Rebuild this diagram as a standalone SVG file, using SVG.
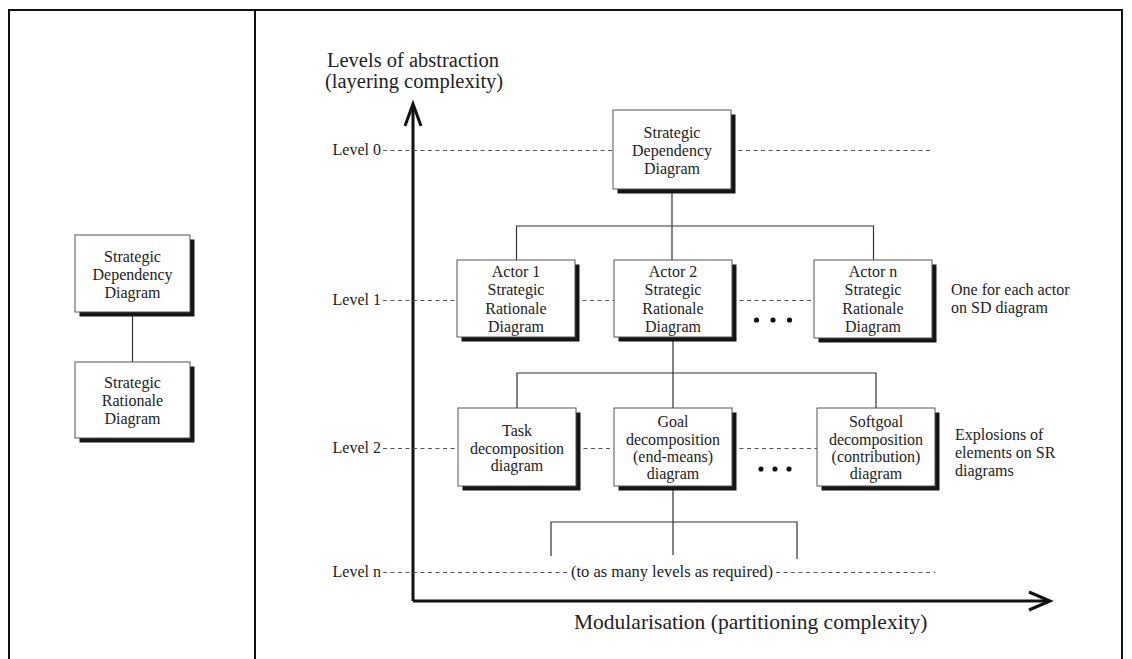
<svg xmlns="http://www.w3.org/2000/svg" width="1132" height="659" viewBox="0 0 1132 659">
  <style>
    .frame { fill: none; stroke: #111; stroke-width: 2; }
    .box { fill: #fff; stroke: #555; stroke-width: 1; }
    .shadow { fill: #151515; }
    .t { font-family: "Liberation Serif", "Times New Roman", serif; font-size: 16px; fill: #222; text-anchor: middle; }
    .lbl { font-family: "Liberation Serif", "Times New Roman", serif; font-size: 16px; fill: #222; }
    .lvl { font-family: "Liberation Serif", "Times New Roman", serif; font-size: 16px; fill: #222; text-anchor: end; }
    .axis-t { font-family: "Liberation Serif", "Times New Roman", serif; font-size: 20.5px; fill: #222; }
    .link { fill: none; stroke: #333; stroke-width: 1.2; }
    .dash { fill: none; stroke: #555; stroke-width: 1; stroke-dasharray: 4 3.5; }
    .axis { fill: none; stroke: #111; stroke-width: 3; }
    .dot { fill: #111; }
  </style>

  <rect width="1132" height="659" fill="#fff"/>

  <!-- outer frame and panel divider -->
  <g id="frame">
    <path class="frame" d="M9,660 V10 H1122 V660"/>
    <line class="frame" x1="255" y1="10" x2="255" y2="660"/>
  </g>

  <!-- axes -->
  <g id="axes">
    <polyline class="axis" points="413,601 413,105"/>
    <polyline class="axis" points="405,126 413,104 421,126"/>
    <polyline class="axis" points="413,601 1049,601"/>
    <polyline class="axis" points="1029,592 1050,601 1029,610"/>
    <text class="axis-t" x="327" y="67">Levels of abstraction</text>
    <text class="axis-t" x="325" y="88">(layering complexity)</text>
    <text class="axis-t" x="574" y="629" style="font-size:21.5px">Modularisation (partitioning complexity)</text>
  </g>

  <!-- level guides -->
  <g id="levels">
    <text class="lvl" x="381" y="155">Level 0</text>
    <text class="lvl" x="381" y="305">Level 1</text>
    <text class="lvl" x="381" y="453">Level 2</text>
    <text class="lvl" x="381" y="577">Level n</text>
    <line class="dash" x1="383" y1="150.5" x2="613" y2="150.5"/>
    <line class="dash" x1="731" y1="150.5" x2="932" y2="150.5"/>
    <line class="dash" x1="383" y1="300.5" x2="457" y2="300.5"/>
    <line class="dash" x1="575" y1="300.5" x2="614" y2="300.5"/>
    <line class="dash" x1="732" y1="300.5" x2="814" y2="300.5"/>
    <line class="dash" x1="383" y1="448.5" x2="458" y2="448.5"/>
    <line class="dash" x1="576" y1="448.5" x2="614" y2="448.5"/>
    <line class="dash" x1="732" y1="448.5" x2="817" y2="448.5"/>
    <line class="dash" x1="383" y1="572.5" x2="568" y2="572.5"/>
    <line class="dash" x1="776" y1="572.5" x2="935" y2="572.5"/>
    <text class="t" x="672" y="577" style="font-size:16.5px">(to as many levels as required)</text>
  </g>

  <!-- connectors -->
  <g id="connectors">
    <line class="link" x1="132.5" y1="312" x2="132.5" y2="362"/>
    <line class="link" x1="672" y1="189" x2="672" y2="260"/>
    <polyline class="link" points="516.5,260 516.5,226 873.5,226 873.5,260"/>
    <line class="link" x1="673" y1="337" x2="673" y2="408"/>
    <polyline class="link" points="517,408 517,373 876,373 876,408"/>
    <line class="link" x1="673" y1="486" x2="673" y2="555"/>
    <polyline class="link" points="551,556 551,522 797,522 797,559"/>
  </g>

  <!-- ellipsis markers -->
  <g id="ellipses">
    <circle class="dot" cx="756.5" cy="320" r="2.6"/>
    <circle class="dot" cx="773" cy="320" r="2.6"/>
    <circle class="dot" cx="789.5" cy="320" r="2.6"/>
    <circle class="dot" cx="761" cy="469" r="2.6"/>
    <circle class="dot" cx="775" cy="469" r="2.6"/>
    <circle class="dot" cx="789" cy="469" r="2.6"/>
  </g>

  <!-- left panel -->
  <g id="left-sd">
    <rect class="shadow" x="79.5" y="239.5" width="115" height="77"/>
    <rect class="box" x="75" y="235" width="115" height="77"/>
    <text class="t" x="132.5" y="262">Strategic</text>
    <text class="t" x="132.5" y="280">Dependency</text>
    <text class="t" x="132.5" y="298">Diagram</text>
  </g>
  <g id="left-sr">
    <rect class="shadow" x="79.5" y="366.5" width="115" height="76"/>
    <rect class="box" x="75" y="362" width="115" height="76"/>
    <text class="t" x="132.5" y="388">Strategic</text>
    <text class="t" x="132.5" y="406">Rationale</text>
    <text class="t" x="132.5" y="424">Diagram</text>
  </g>

  <!-- level 0 -->
  <g id="sd-diagram">
    <rect class="shadow" x="617.5" y="114.5" width="118" height="79"/>
    <rect class="box" x="613" y="110" width="118" height="79"/>
    <text class="t" x="672" y="138">Strategic</text>
    <text class="t" x="672" y="156">Dependency</text>
    <text class="t" x="672" y="174">Diagram</text>
  </g>

  <!-- level 1 -->
  <g id="actor-1">
    <rect class="shadow" x="461.5" y="264.5" width="118" height="77"/>
    <rect class="box" x="457" y="260" width="118" height="77"/>
    <text class="t" x="516" y="277">Actor 1</text>
    <text class="t" x="516" y="295.3">Strategic</text>
    <text class="t" x="516" y="313.6">Rationale</text>
    <text class="t" x="516" y="332">Diagram</text>
  </g>
  <g id="actor-2">
    <rect class="shadow" x="618.5" y="264.5" width="118" height="77"/>
    <rect class="box" x="614" y="260" width="118" height="77"/>
    <text class="t" x="673" y="277">Actor 2</text>
    <text class="t" x="673" y="295.3">Strategic</text>
    <text class="t" x="673" y="313.6">Rationale</text>
    <text class="t" x="673" y="332">Diagram</text>
  </g>
  <g id="actor-n">
    <rect class="shadow" x="818.5" y="264.5" width="118" height="78"/>
    <rect class="box" x="814" y="260" width="118" height="78"/>
    <text class="t" x="873" y="277">Actor n</text>
    <text class="t" x="873" y="295.3">Strategic</text>
    <text class="t" x="873" y="313.6">Rationale</text>
    <text class="t" x="873" y="332">Diagram</text>
  </g>
  <g id="note-actors">
    <text class="lbl" x="951" y="295">One for each actor</text>
    <text class="lbl" x="951" y="313">on SD diagram</text>
  </g>

  <!-- level 2 -->
  <g id="task-decomposition">
    <rect class="shadow" x="462.5" y="412.5" width="118" height="78"/>
    <rect class="box" x="458" y="408" width="118" height="78"/>
    <text class="t" x="517" y="436">Task</text>
    <text class="t" x="517" y="453.5">decomposition</text>
    <text class="t" x="517" y="471">diagram</text>
  </g>
  <g id="goal-decomposition">
    <rect class="shadow" x="618.5" y="412.5" width="118" height="78"/>
    <rect class="box" x="614" y="408" width="118" height="78"/>
    <text class="t" x="673" y="427">Goal</text>
    <text class="t" x="673" y="444.5">decomposition</text>
    <text class="t" x="673" y="462">(end-means)</text>
    <text class="t" x="673" y="479">diagram</text>
  </g>
  <g id="softgoal-decomposition">
    <rect class="shadow" x="821.5" y="412.5" width="118" height="78"/>
    <rect class="box" x="817" y="408" width="118" height="78"/>
    <text class="t" x="876" y="427">Softgoal</text>
    <text class="t" x="876" y="444.5">decomposition</text>
    <text class="t" x="876" y="462">(contribution)</text>
    <text class="t" x="876" y="479">diagram</text>
  </g>
  <g id="note-explosions">
    <text class="lbl" x="955" y="440">Explosions of</text>
    <text class="lbl" x="955" y="458">elements on SR</text>
    <text class="lbl" x="955" y="476">diagrams</text>
  </g>
</svg>
